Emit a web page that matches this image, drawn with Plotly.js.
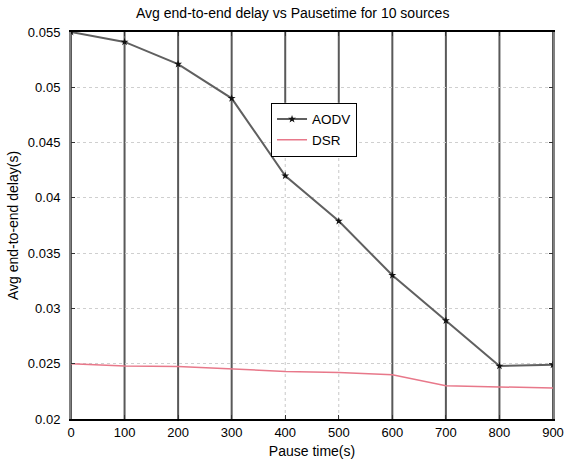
<!DOCTYPE html>
<html>
<head>
<meta charset="utf-8">
<script src="https://cdn.plot.ly/plotly-3.0.1.min.js"></script>
<style>html,body{margin:0;padding:0;background:#fff;}#chart{width:564px;height:462px;}</style>
</head>
<body>
<div id="chart"></div>
<script>
const pauseTimes = [0, 100, 200, 300, 400, 500, 600, 700, 800, 900];
const aodvDelay = [0.055, 0.0541, 0.0521, 0.049, 0.042, 0.0379, 0.0330, 0.0289, 0.0248, 0.0249];
const dsrDelay  = [0.0250, 0.0248, 0.02475, 0.02455, 0.0243, 0.0242, 0.0240, 0.0230, 0.0229, 0.0228];
const yTicks = [0.02, 0.025, 0.03, 0.035, 0.04, 0.045, 0.05, 0.055];
const yTickText = ['0.02', '0.025', '0.03', '0.035', '0.04', '0.045', '0.05', '0.055'];
const shortGridX = [400, 500];

const fam = 'Liberation Sans, Arial, sans-serif';
const tickFont = {family: fam, size: 13, color: '#000'};
const titleFont = {family: fam, size: 14, color: '#000'};

const traces = [
  {x: pauseTimes, y: aodvDelay, name: 'AODV', mode: 'lines+markers',
   line: {color: '#606060', width: 2},
   marker: {symbol: 'star', size: 6, color: '#111'}},
  {x: pauseTimes, y: dsrDelay, name: 'DSR', mode: 'lines',
   line: {color: '#e8788a', width: 1.5}}
];

const legendTop = 0.817;
const shapes = [];
pauseTimes.forEach(t => {
  const isShort = shortGridX.includes(t);
  shapes.push({
    type: 'line', xref: 'x', yref: 'paper', x0: t, x1: t,
    y0: isShort ? legendTop : 0, y1: 1,
    line: {color: 'rgba(60,60,60,0.85)', width: 2}, layer: 'below'
  });
  if (isShort) {
    shapes.push({
      type: 'line', xref: 'x', yref: 'paper', x0: t, x1: t,
      y0: 0, y1: legendTop,
      line: {color: '#c8c8c8', width: 1, dash: 'dot'}, layer: 'below'
    });
  }
});

const layout = {
  width: 564, height: 462,
  margin: {l: 71, r: 11, t: 32, b: 43},
  paper_bgcolor: '#fff', plot_bgcolor: '#fff',
  font: tickFont,
  title: {text: 'Avg end-to-end delay vs Pausetime for 10 sources', font: titleFont,
    xref: 'paper', x: 0.46, xanchor: 'center', y: 0.972, yanchor: 'middle'},
  xaxis: {
    range: [0, 900], tickvals: pauseTimes, ticktext: pauseTimes.map(String),
    showgrid: false,
    showline: true, linecolor: '#000', linewidth: 2, mirror: 'ticks',
    ticks: 'inside', ticklen: 4, tickcolor: '#333', zeroline: false,
    tickfont: tickFont,
    title: {text: 'Pause time(s)', font: titleFont, standoff: 8}
  },
  yaxis: {
    range: [0.02, 0.055], tickvals: yTicks, ticktext: yTickText,
    showgrid: true, gridcolor: '#cfcfcf', griddash: 'dot', gridwidth: 1,
    showline: true, linecolor: '#808080', linewidth: 2, mirror: 'ticks',
    ticks: 'inside', ticklen: 4, tickcolor: '#333', zeroline: false,
    tickfont: tickFont, ticklabelstandoff: 6,
    title: {text: 'Avg end-to-end delay(s)', font: titleFont, standoff: 6}
  },
  shapes: shapes,
  showlegend: true,
  legend: {x: 0.415, y: legendTop, xanchor: 'left', yanchor: 'top',
    bgcolor: '#fff', bordercolor: '#000', borderwidth: 1,
    font: {family: fam, size: 13.5, color: '#000'}, tracegroupgap: 0, itemwidth: 30,
    entrywidth: 100, entrywidthmode: 'pixels'}
};

Plotly.newPlot('chart', traces, layout, {displayModeBar: false, staticPlot: true});
</script>
</body>
</html>
